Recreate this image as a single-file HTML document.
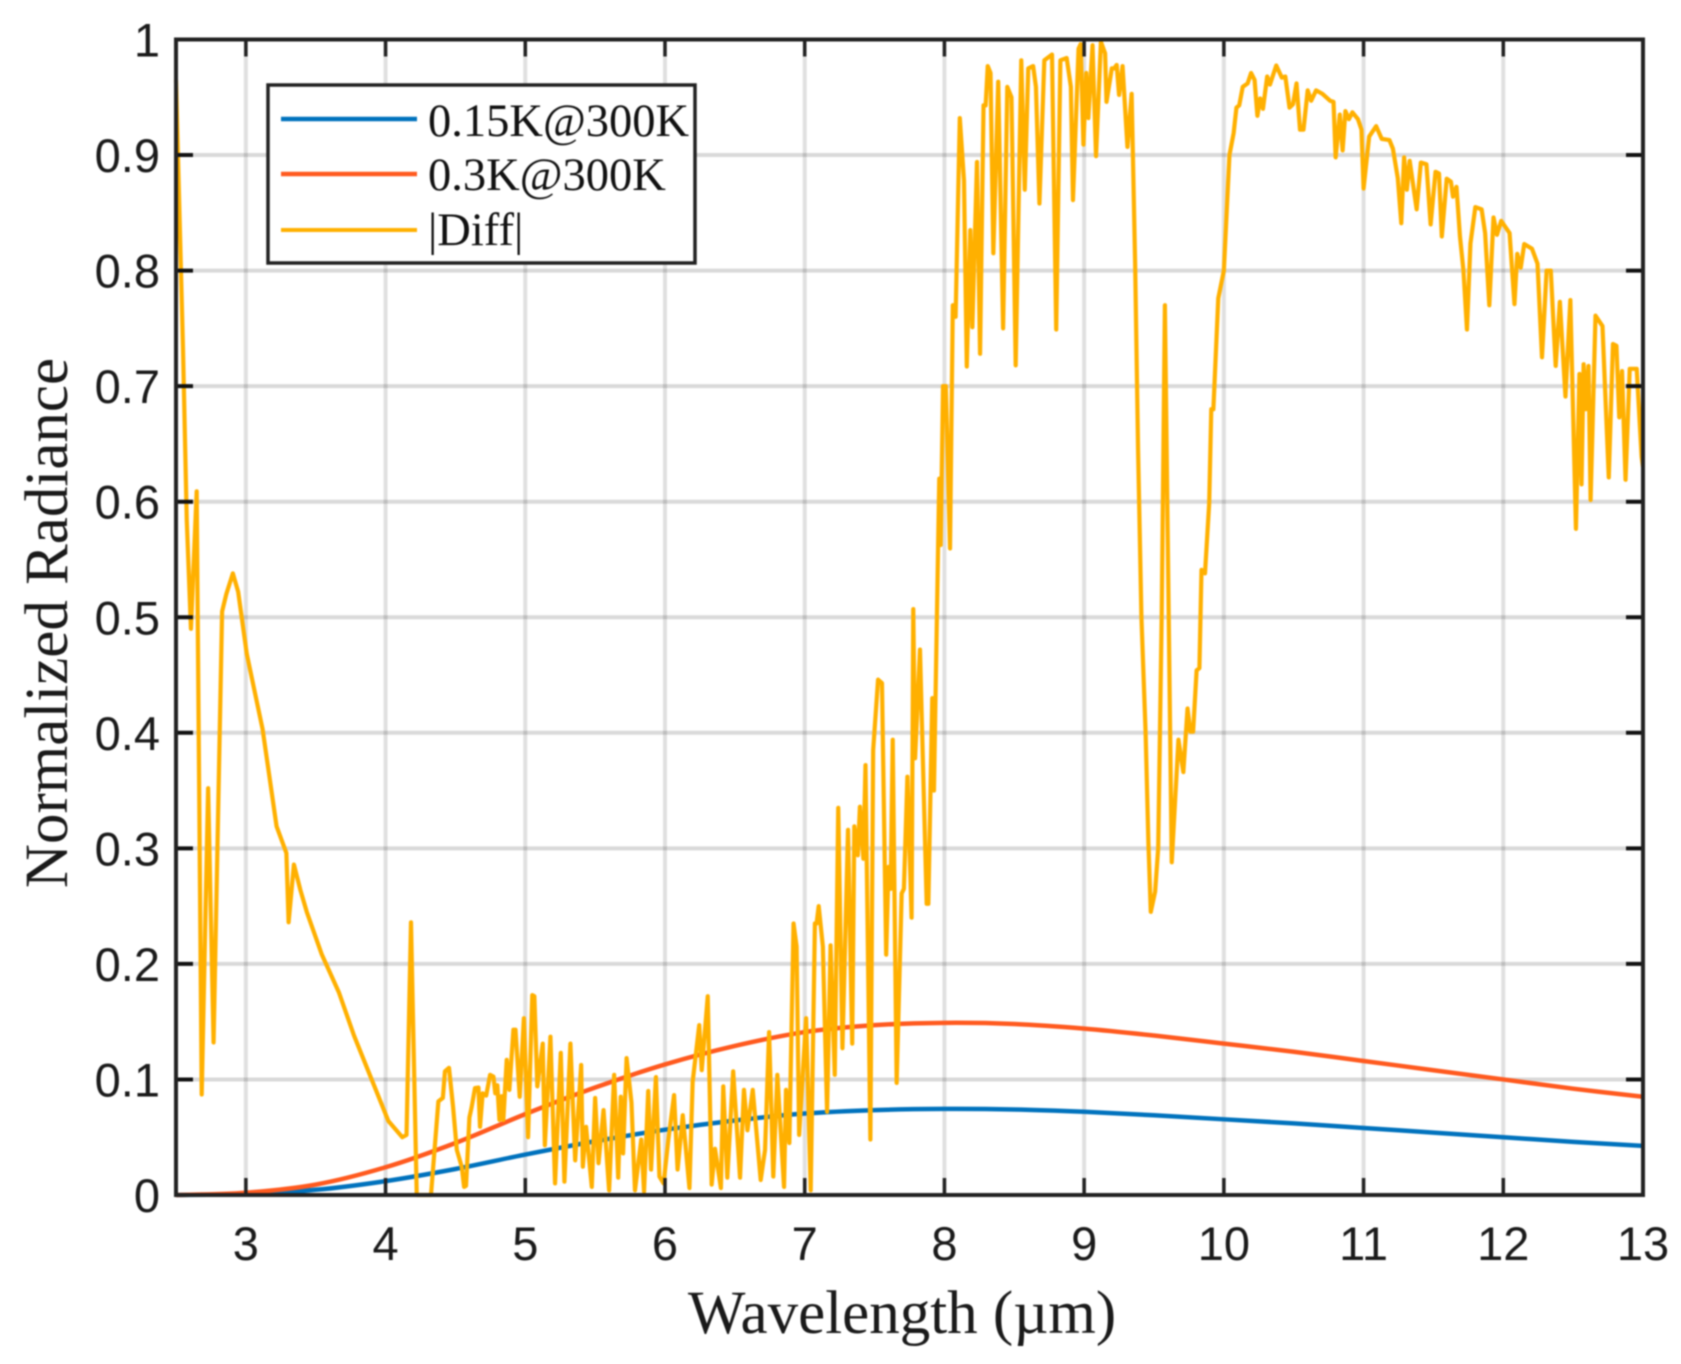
<!DOCTYPE html>
<html lang="en">
<head>
<meta charset="utf-8">
<title>Normalized Radiance vs Wavelength</title>
<style>
html,body{margin:0;padding:0;background:#fff;width:1681px;height:1364px;overflow:hidden}
svg{display:block;filter:blur(0.8px)}
.tick-label{font-family:"Liberation Sans",sans-serif;font-size:47px;fill:#1a1a1a}
.axis-title{font-family:"Liberation Serif",serif;font-size:61px;fill:#1a1a1a}
.legend-text{font-family:"Liberation Serif",serif;font-size:46.5px;fill:#111}
</style>
</head>
<body>
<svg id="chart" width="1681" height="1364" viewBox="0 0 1681 1364" xmlns="http://www.w3.org/2000/svg">
  <rect x="0" y="0" width="1681" height="1364" fill="#fff"/>
  <g id="grid"></g>
  <g id="series"></g>
  <g id="axes"></g>
  <text class="axis-title" x="902" y="1333" text-anchor="middle">Wavelength (µm)</text>
  <text class="axis-title" transform="translate(67 623) rotate(-90)" text-anchor="middle">Normalized Radiance</text>
  <g>
    <rect x="268" y="85" width="427" height="178" fill="#fff" stroke="#222" stroke-width="3.5"/>
    <line x1="281" y1="119" x2="417" y2="119" stroke="#0072BD" stroke-width="4.5"/>
    <text class="legend-text" x="428" y="136">0.15K@300K</text>
    <line x1="281" y1="174" x2="417" y2="174" stroke="#FF5A1F" stroke-width="4.5"/>
    <text class="legend-text" x="428" y="190">0.3K@300K</text>
    <line x1="281" y1="230" x2="417" y2="230" stroke="#FFB000" stroke-width="4"/>
    <text class="legend-text" x="428" y="245">|Diff|</text>
  </g>
</svg>
<script>
const xTickValues = [3,4,5,6,7,8,9,10,11,12,13];
const yTickValues = [0,0.1,0.2,0.3,0.4,0.5,0.6,0.7,0.8,0.9,1];
const yTickLabels = ['0','0.1','0.2','0.3','0.4','0.5','0.6','0.7','0.8','0.9','1'];

const smoothWavelengths = [2.5,3,3.5,4,4.5,5,5.5,6,6.5,7,7.5,8,8.5,9,9.5,10,10.5,11,11.5,12,12.5,13];
const blueValues = [0,0.001,0.0045,0.012,0.0225,0.035,0.0465,0.0565,0.0645,0.0705,0.0735,0.0745,0.074,0.072,0.069,0.0655,0.062,0.058,0.054,0.05,0.046,0.0425];
const redValues = [0,0.002,0.009,0.024,0.045,0.07,0.093,0.113,0.129,0.141,0.147,0.149,0.148,0.144,0.138,0.131,0.124,0.116,0.108,0.1,0.092,0.085];

const diffWavelengths = [
2.5,2.55,2.577,2.607,2.648,2.684,2.73,2.769,2.83,2.86,
2.907,2.945,3.007,3.12,3.22,3.29,3.306,3.344,3.39,3.436,
3.544,3.667,3.774,3.927,4.02,4.12,4.15,4.182,4.223,4.325,
4.378,4.41,4.425,4.454,4.483,4.51,4.545,4.562,4.576,4.6,
4.616,4.64,4.665,4.676,4.695,4.72,4.748,4.772,4.785,4.8,
4.815,4.83,4.843,4.867,4.886,4.915,4.93,4.96,4.99,5.02,
5.05,5.065,5.086,5.125,5.14,5.18,5.213,5.254,5.28,5.323,
5.357,5.4,5.412,5.435,5.476,5.5,5.524,5.56,5.6,5.636,
5.665,5.683,5.7,5.725,5.76,5.785,5.83,5.85,5.88,5.9,
5.935,5.96,5.99,6.024,6.065,6.09,6.127,6.175,6.198,6.245,
6.263,6.306,6.334,6.358,6.4,6.417,6.446,6.488,6.537,6.565,
6.59,6.628,6.685,6.716,6.745,6.775,6.804,6.852,6.866,6.89,
6.92,6.942,6.96,7.01,7.043,7.073,7.085,7.1,7.13,7.16,
7.185,7.215,7.24,7.27,7.31,7.34,7.355,7.38,7.395,7.42,
7.435,7.47,7.49,7.525,7.553,7.583,7.6,7.615,7.63,7.658,
7.694,7.71,7.735,7.765,7.777,7.79,7.825,7.873,7.885,7.913,
7.925,7.963,7.973,7.99,8.01,8.04,8.06,8.08,8.11,8.14,
8.16,8.185,8.2,8.233,8.255,8.28,8.295,8.31,8.33,8.35,
8.385,8.42,8.45,8.48,8.51,8.55,8.575,8.6,8.635,8.655,
8.68,8.715,8.77,8.8,8.83,8.875,8.905,8.92,8.96,8.975,
8.995,9.015,9.03,9.06,9.085,9.12,9.15,9.16,9.198,9.215,
9.233,9.25,9.275,9.31,9.34,9.365,9.386,9.41,9.44,9.46,
9.477,9.508,9.53,9.555,9.578,9.627,9.675,9.71,9.74,9.76,
9.78,9.805,9.825,9.84,9.865,9.895,9.91,9.925,9.96,10,
10.04,10.07,10.09,10.11,10.135,10.17,10.195,10.22,10.24,10.26,
10.28,10.31,10.33,10.375,10.415,10.44,10.47,10.495,10.52,10.545,
10.57,10.6,10.625,10.66,10.705,10.76,10.785,10.8,10.83,10.85,
10.87,10.895,10.92,10.96,10.985,11,11.04,11.09,11.13,11.185,
11.21,11.245,11.27,11.29,11.31,11.33,11.38,11.41,11.45,11.48,
11.515,11.54,11.56,11.595,11.625,11.64,11.665,11.69,11.715,11.74,
11.765,11.8,11.845,11.87,11.9,11.93,11.955,11.985,12.045,12.08,
12.1,12.125,12.15,12.205,12.245,12.277,12.31,12.34,12.375,12.405,
12.445,12.48,12.52,12.545,12.56,12.575,12.59,12.61,12.625,12.66,
12.71,12.755,12.785,12.81,12.83,12.85,12.875,12.905,12.955,12.99,
13
];
const diffValues = [
0.965,0.733,0.584,0.49,0.609,0.087,0.352,0.132,0.505,0.52,
0.538,0.522,0.468,0.403,0.319,0.296,0.236,0.286,0.264,0.245,
0.208,0.175,0.138,0.092,0.064,0.05,0.052,0.236,0,0,
0.081,0.084,0.107,0.11,0.0765,0.039,0.0245,0.007,0.008,0.067,
0.076,0.0925,0.093,0.059,0.088,0.086,0.104,0.1025,0.088,0.095,
0.065,0.0855,0.065,0.117,0.091,0.143,0.143,0.085,0.153,0.05,
0.173,0.172,0.094,0.131,0.043,0.137,0.01,0.123,0.0115,0.131,
0.03,0.1125,0.0245,0.059,0.007,0.084,0.0275,0.0735,0.004,0.104,
0.015,0.085,0.036,0.1185,0.08,0.004,0.048,0.003,0.09,0.022,
0.102,0.016,0.01,0.048,0.0865,0.022,0.069,0.006,0.098,0.147,
0.108,0.172,0.009,0.04,0.006,0.094,0.015,0.107,0.015,0.091,
0.056,0.091,0.013,0.039,0.141,0.016,0.104,0.007,0.091,0.045,
0.235,0.215,0.052,0.153,0.004,0.235,0.235,0.25,0.215,0.072,
0.216,0.104,0.335,0.127,0.316,0.131,0.319,0.294,0.336,0.291,
0.372,0.048,0.385,0.446,0.443,0.208,0.284,0.265,0.394,0.097,
0.261,0.265,0.362,0.24,0.507,0.378,0.472,0.252,0.252,0.43,
0.35,0.62,0.5625,0.7,0.7,0.5595,0.77,0.76,0.932,0.878,
0.717,0.835,0.751,0.894,0.728,0.943,0.943,0.977,0.971,0.815,
0.9635,0.75,0.959,0.95,0.718,0.982,0.87,0.975,0.977,0.959,
0.858,0.982,0.987,0.749,0.982,0.984,0.959,0.861,0.992,0.996,
0.909,0.971,0.932,0.995,0.899,0.998,0.988,0.946,0.975,0.975,
0.978,0.952,0.977,0.907,0.953,0.806,0.645,0.5,0.4,0.3045,
0.245,0.2625,0.3,0.5,0.77,0.288,0.394,0.366,0.421,0.401,
0.401,0.454,0.456,0.541,0.538,0.5985,0.68,0.68,0.776,0.8,
0.9,0.919,0.941,0.943,0.959,0.962,0.971,0.965,0.934,0.949,
0.94,0.968,0.961,0.9775,0.967,0.968,0.941,0.944,0.962,0.922,
0.922,0.956,0.947,0.956,0.953,0.947,0.946,0.898,0.935,0.904,
0.938,0.931,0.937,0.931,0.922,0.871,0.916,0.925,0.914,0.913,
0.9055,0.88,0.841,0.898,0.87,0.895,0.853,0.8935,0.892,0.84,
0.8855,0.884,0.8295,0.8795,0.877,0.864,0.8725,0.8295,0.8,0.749,
0.8235,0.855,0.853,0.8325,0.77,0.846,0.831,0.843,0.8325,0.771,
0.8145,0.8025,0.823,0.819,0.806,0.725,0.8,0.8,0.7175,0.773,
0.691,0.7745,0.5765,0.7105,0.615,0.719,0.68,0.7175,0.6015,0.761,
0.752,0.621,0.7365,0.735,0.673,0.713,0.619,0.715,0.715,0.639,
0.63
];

const plotLeft = 176, plotRight = 1643, plotTop = 39.5, plotBottom = 1195;
const xMin = 2.5, xMax = 13, yMin = 0, yMax = 1;
const tickLength = 17;
const SVG_NS = 'http://www.w3.org/2000/svg';

function xScale(w) { return plotLeft + (w - xMin) * (plotRight - plotLeft) / (xMax - xMin); }
function yScale(v) { return plotBottom - (v - yMin) * (plotBottom - plotTop) / (yMax - yMin); }

function makeLine(x1, y1, x2, y2, stroke, width) {
  const el = document.createElementNS(SVG_NS, 'line');
  el.setAttribute('x1', x1);
  el.setAttribute('y1', y1);
  el.setAttribute('x2', x2);
  el.setAttribute('y2', y2);
  el.setAttribute('stroke', stroke);
  el.setAttribute('stroke-width', width);
  return el;
}

function smoothPath(xs, ys) {
  const pts = xs.map((x, i) => [xScale(x), yScale(ys[i])]);
  let d = 'M' + pts[0][0].toFixed(2) + ' ' + pts[0][1].toFixed(2);
  for (let i = 0; i < pts.length - 1; i++) {
    const p0 = pts[Math.max(0, i - 1)], p1 = pts[i], p2 = pts[i + 1], p3 = pts[Math.min(pts.length - 1, i + 2)];
    const c1x = p1[0] + (p2[0] - p0[0]) / 6, c1y = p1[1] + (p2[1] - p0[1]) / 6;
    const c2x = p2[0] - (p3[0] - p1[0]) / 6, c2y = p2[1] - (p3[1] - p1[1]) / 6;
    d += 'C' + c1x.toFixed(2) + ' ' + c1y.toFixed(2) + ' ' + c2x.toFixed(2) + ' ' + c2y.toFixed(2) + ' ' + p2[0].toFixed(2) + ' ' + p2[1].toFixed(2);
  }
  return d;
}

const gridGroup = document.getElementById('grid');
const seriesGroup = document.getElementById('series');
const axesGroup = document.getElementById('axes');

xTickValues.forEach(function (t) {
  const gridLine = makeLine(xScale(t), plotTop, xScale(t), plotBottom, 'rgba(0,0,0,0.12)', 4);
  
  
  gridGroup.appendChild(gridLine);
});
yTickValues.forEach(function (t) {
  const gridLine = makeLine(plotLeft, yScale(t), plotRight, yScale(t), 'rgba(0,0,0,0.15)', 4);
  
  
  gridGroup.appendChild(gridLine);
});

const bluePath = document.createElementNS(SVG_NS, 'path');
bluePath.setAttribute('d', smoothPath(smoothWavelengths, blueValues));
bluePath.setAttribute('fill', 'none');
bluePath.setAttribute('stroke', '#0072BD');
bluePath.setAttribute('stroke-width', '4.5');


seriesGroup.appendChild(bluePath);

const redPath = document.createElementNS(SVG_NS, 'path');
redPath.setAttribute('d', smoothPath(smoothWavelengths, redValues));
redPath.setAttribute('fill', 'none');
redPath.setAttribute('stroke', '#FF5A1F');
redPath.setAttribute('stroke-width', '4.5');


seriesGroup.appendChild(redPath);

const diffLine = document.createElementNS(SVG_NS, 'polyline');
diffLine.setAttribute('points', diffWavelengths.map(function (w, i) {
  return xScale(w).toFixed(2) + ',' + yScale(diffValues[i]).toFixed(2);
}).join(' '));
diffLine.setAttribute('fill', 'none');
diffLine.setAttribute('stroke', '#FFB000');
diffLine.setAttribute('stroke-width', '4.2');
diffLine.setAttribute('stroke-linejoin', 'round');


seriesGroup.appendChild(diffLine);

xTickValues.forEach(function (t) {
  const bottomTick = makeLine(xScale(t), plotBottom, xScale(t), plotBottom - tickLength, '#222', 3.5);
  
  
  axesGroup.appendChild(bottomTick);
  const topTick = makeLine(xScale(t), plotTop, xScale(t), plotTop + tickLength, '#222', 3.5);
  
  
  axesGroup.appendChild(topTick);
  const label = document.createElementNS(SVG_NS, 'text');
  label.setAttribute('class', 'tick-label');
  label.setAttribute('x', xScale(t));
  label.setAttribute('y', 1260);
  label.setAttribute('text-anchor', 'middle');
  
  
  label.textContent = String(t);
  axesGroup.appendChild(label);
});

yTickValues.forEach(function (t, i) {
  const leftTick = makeLine(plotLeft, yScale(t), plotLeft + tickLength, yScale(t), '#111', 4);
  
  
  axesGroup.appendChild(leftTick);
  const rightTick = makeLine(plotRight, yScale(t), plotRight - tickLength, yScale(t), '#111', 4);
  
  
  axesGroup.appendChild(rightTick);
  const label = document.createElementNS(SVG_NS, 'text');
  label.setAttribute('class', 'tick-label');
  label.setAttribute('x', 160);
  label.setAttribute('y', yScale(t) + 17);
  label.setAttribute('text-anchor', 'end');
  
  
  label.textContent = yTickLabels[i];
  axesGroup.appendChild(label);
});

const axisBox = document.createElementNS(SVG_NS, 'rect');
axisBox.setAttribute('x', plotLeft);
axisBox.setAttribute('y', plotTop);
axisBox.setAttribute('width', plotRight - plotLeft);
axisBox.setAttribute('height', plotBottom - plotTop);
axisBox.setAttribute('fill', 'none');
axisBox.setAttribute('stroke', '#222');
axisBox.setAttribute('stroke-width', '4');


axesGroup.appendChild(axisBox);
</script>
</body>
</html>
